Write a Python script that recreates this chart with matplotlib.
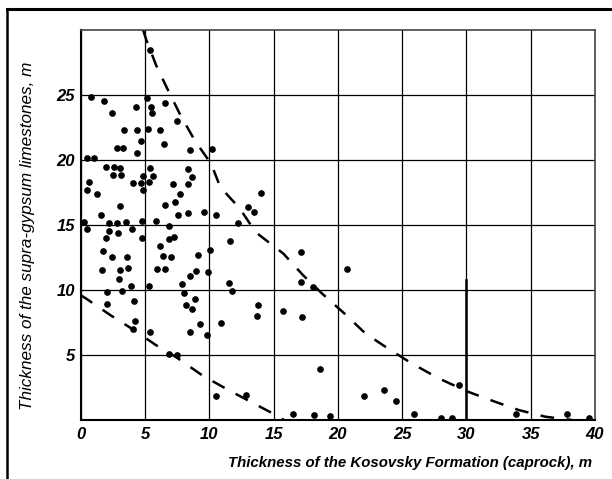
import matplotlib
matplotlib.use('Agg')
import matplotlib.pyplot as pyplot
import matplotlib.lines as lines
import numpy


FONT_FAMILY = ['Liberation Sans', 'DejaVu Sans']

# Scatter points: caprock thickness (x) and
# supra-gypsum limestone thickness (y), both in metres.
CAPROCK_THICKNESS = [
    0.81, 1.78, 2.46, 4.29, 5.18, 5.46, 5.56, 6.57, 7.51, 3.35,
    4.37, 5.23, 6.17, 4.72, 6.47, 2.79, 3.32, 4.37, 8.48, 10.22,
    0.48, 1.07, 1.98, 2.59, 3.02, 2.54, 3.12, 5.41, 5.63, 4.82,
    4.06, 4.67, 5.28, 4.87, 0.66, 0.48, 1.29, 8.38, 8.63, 7.18,
    8.33, 7.69, 7.36, 6.57, 3.02, 1.60, 7.54, 8.33, 9.59, 5.86,
    4.77, 3.53, 2.84, 2.23, 0.23, 6.83, 0.51, 2.23, 2.87, 3.98,
    4.75, 6.90, 7.28, 6.17, 10.05, 1.98, 1.75, 2.46, 3.60, 6.42,
    7.00, 9.11, 1.68, 3.02, 3.68, 5.94, 6.55, 8.96, 8.48, 9.90,
    2.94, 3.88, 5.28, 7.87, 3.20, 2.06, 8.05, 8.86, 8.22, 8.63,
    4.14, 2.06, 9.26, 4.21, 8.48, 9.82, 5.41, 6.90, 7.49, 4.10,
    13.99, 13.03, 13.50, 10.49, 12.27, 11.58, 11.50, 11.78, 13.82, 13.71,
    10.90, 10.55, 12.87, 16.52, 18.13, 15.74, 17.16, 17.11, 17.21, 18.04,
    20.75, 18.63, 19.39, 22.03, 23.56, 24.50, 25.92, 28.00, 28.84, 29.45,
    33.84, 37.85, 39.54, 5.38,
]
LIMESTONE_THICKNESS = [
    24.87, 24.56, 23.60, 24.06, 24.74, 24.10, 23.60, 24.40, 23.00, 22.27,
    22.27, 22.40, 22.27, 21.46, 21.20, 20.90, 20.90, 20.50, 20.73, 20.85,
    20.18, 20.18, 19.48, 19.48, 19.40, 18.83, 18.83, 19.40, 18.75, 18.80,
    18.26, 18.26, 18.33, 17.68, 18.33, 17.68, 17.37, 19.32, 18.72, 18.18,
    18.18, 17.37, 16.77, 16.56, 16.48, 15.78, 15.80, 15.90, 15.99, 15.34,
    15.34, 15.26, 15.18, 15.18, 15.26, 14.90, 14.66, 14.53, 14.38, 14.66,
    14.00, 13.90, 14.10, 13.40, 13.10, 14.00, 12.98, 12.53, 12.53, 12.60,
    12.53, 12.70, 11.57, 11.55, 11.70, 11.62, 11.62, 11.47, 11.10, 11.39,
    10.86, 10.31, 10.31, 10.47, 9.92, 9.82, 9.74, 9.27, 8.85, 8.56,
    9.19, 8.90, 7.36, 7.62, 6.78, 6.52, 6.78, 5.08, 5.00, 7.00,
    17.49, 16.36, 15.98, 15.77, 15.13, 13.79, 10.51, 9.95, 8.85, 8.02,
    7.49, 1.85, 1.92, 0.46, 0.38, 8.38, 12.95, 10.64, 7.90, 10.26,
    11.59, 3.92, 0.31, 1.85, 2.31, 1.44, 0.49, 0.18, 0.18, 2.69,
    0.49, 0.49, 0.13, 28.46,
]

# Hand-drawn dashed envelope curves, traced along the dashes.
UPPER_BOUND_X = [
    4.85, 5.08, 5.88, 6.80, 7.73, 8.90, 10.15, 10.86, 12.35, 13.60,
    15.76, 17.28, 18.80, 20.50, 22.15, 23.90, 25.75, 27.85, 30.05, 32.10,
    34.05, 36.15, 38.20,
]
UPPER_BOUND_Y = [
    30.00, 29.30, 27.25, 25.35, 23.50, 21.45, 19.70, 17.90, 16.30, 14.45,
    12.80, 11.15, 9.70, 8.20, 6.65, 5.50, 4.35, 3.20, 2.20, 1.45,
    0.77, 0.25, 0.00,
]
LOWER_BOUND_X = [0.0, 0.48, 2.30, 4.09, 5.85, 7.40, 9.50, 11.50, 13.50, 15.30, 15.80]
LOWER_BOUND_Y = [9.60, 9.30, 8.07, 6.95, 5.76, 4.85, 3.40, 2.30, 1.25, 0.32, 0.00]

X_TICKS = [0, 5, 10, 15, 20, 25, 30, 35, 40]
Y_TICKS = [5, 10, 15, 20, 25]

X_LABEL = 'Thickness of the Kosovsky Formation (caprock), m'
Y_LABEL = 'Thickness of the supra-gypsum limestones, m'


def configure_axes(axes):
    axes.set_xlim(0, 40)
    axes.set_ylim(0, 30)
    axes.set_xticks(X_TICKS)
    axes.set_yticks(Y_TICKS)
    tick_font = dict(family=FONT_FAMILY, size=12, weight='bold', style='italic')
    axes.set_xticklabels([str(tick) for tick in X_TICKS], **tick_font)
    axes.set_yticklabels([str(tick) for tick in Y_TICKS], **tick_font)
    axes.tick_params(axis='both', which='both', length=0)
    axes.tick_params(axis='x', pad=5)
    axes.tick_params(axis='y', pad=4)
    axes.grid(True, color='black', linewidth=0.9)
    axes.set_axisbelow(True)
    for side in ('left', 'bottom'):
        axes.spines[side].set_linewidth(1.5)
    for side in ('top', 'right'):
        axes.spines[side].set_linewidth(1.2)
        axes.spines[side].set_color('#444444')


def draw_frame(figure):
    figure.add_artist(lines.Line2D(
        [7 / 612, 1.0], [1 - 9 / 479, 1 - 9 / 479],
        transform=figure.transFigure, color='black', linewidth=2.2))
    figure.add_artist(lines.Line2D(
        [7 / 612, 7 / 612], [0.0, 1 - 9 / 479],
        transform=figure.transFigure, color='black', linewidth=1.8))


def scatter_chart():
    figure = pyplot.figure(figsize=(6.12, 4.79), dpi=100)
    axes = figure.add_axes([0.1319, 0.1232, 0.8403, 0.8142])

    configure_axes(axes)

    # Darker stretch of the 30 m grid line in the scanned original.
    axes.plot([30, 30], [0, 10.8], color='black', linewidth=1.8)

    dash_style = dict(color='black', linewidth=1.8, dashes=(5.5, 5))
    axes.plot(UPPER_BOUND_X, UPPER_BOUND_Y, **dash_style)
    axes.plot(LOWER_BOUND_X, LOWER_BOUND_Y, **dash_style)

    axes.plot(
        numpy.array(CAPROCK_THICKNESS), numpy.array(LIMESTONE_THICKNESS),
        linestyle='none', marker='o', markersize=3.8, color='black')

    figure.text(592 / 612, 1 - 463 / 479, X_LABEL, ha='right', va='center',
                family=FONT_FAMILY, size=10.8, weight='bold', style='italic')
    figure.text(28 / 612, 1 - 236 / 479, Y_LABEL, ha='center', va='center',
                rotation=90, family=FONT_FAMILY, size=12.3, style='italic')

    draw_frame(figure)

    figure.savefig('out.png', dpi=100)


scatter_chart()
